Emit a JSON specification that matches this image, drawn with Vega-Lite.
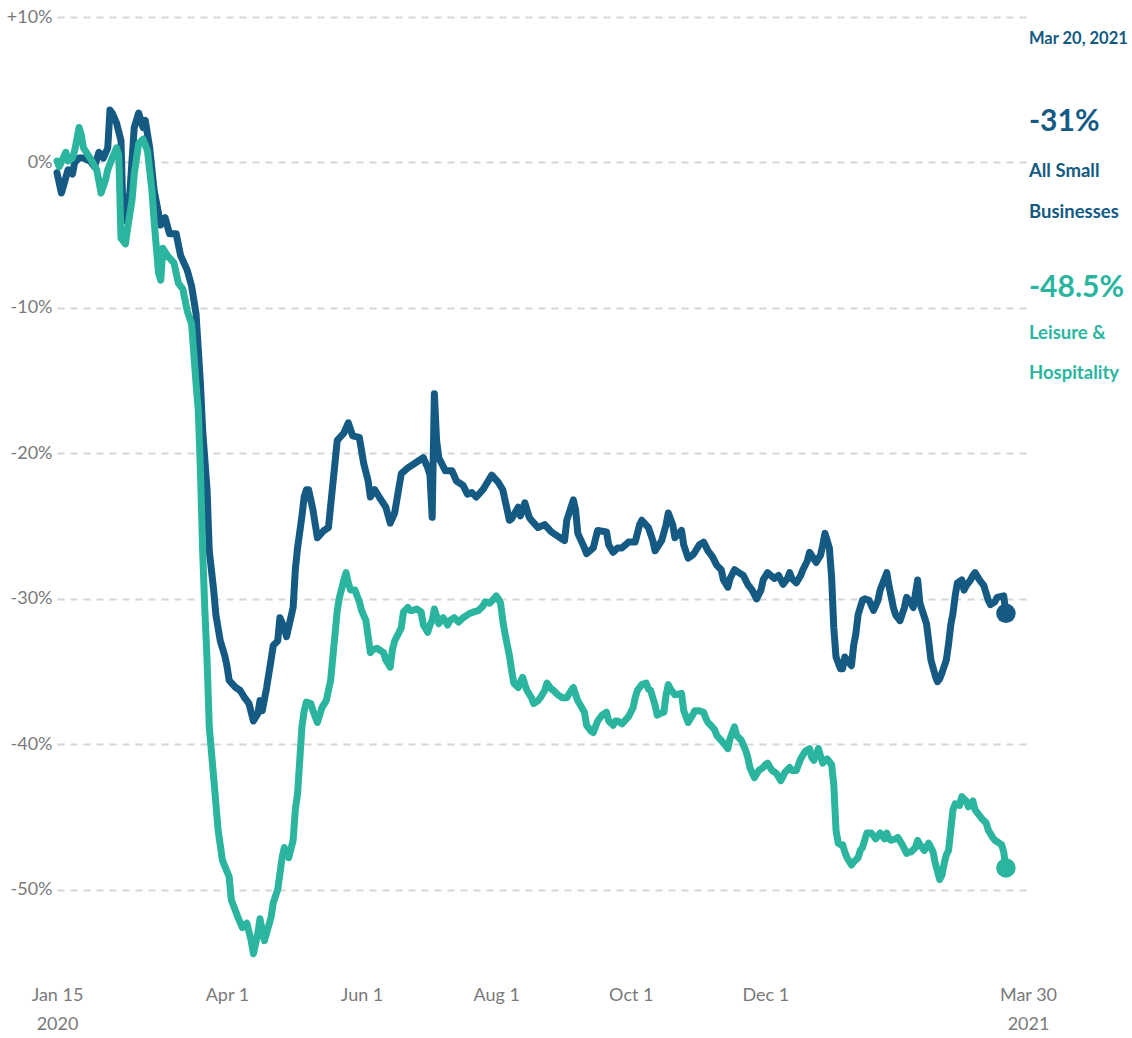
{
  "$schema": "https://vega.github.io/schema/vega-lite/v6.json",
  "width": 971,
  "height": 960,
  "autosize": {"type": "none"},
  "padding": {"left": 57, "top": 17, "right": 104, "bottom": 61},
  "background": "white",
  "config": {"view": {"stroke": null}, "font": "Lato"},
  "datasets": {
    "series": [
      {"d":"2020-01-15","s":"All","v":-0.7},{"d":"2020-01-17","s":"All","v":-2.1},{"d":"2020-01-20","s":"All","v":-0.5},{"d":"2020-01-22","s":"All","v":-0.8},{"d":"2020-01-23","s":"All","v":0.0},{"d":"2020-01-25","s":"All","v":0.3},{"d":"2020-01-27","s":"All","v":0.3},{"d":"2020-01-30","s":"All","v":0.1},{"d":"2020-02-01","s":"All","v":-0.3},{"d":"2020-02-03","s":"All","v":0.7},{"d":"2020-02-05","s":"All","v":0.3},{"d":"2020-02-07","s":"All","v":1.0},{"d":"2020-02-08","s":"All","v":3.6},{"d":"2020-02-09","s":"All","v":3.4},{"d":"2020-02-11","s":"All","v":2.7},{"d":"2020-02-13","s":"All","v":1.5},{"d":"2020-02-14","s":"All","v":-4.0},{"d":"2020-02-16","s":"All","v":-2.8},{"d":"2020-02-17","s":"All","v":-2.1},{"d":"2020-02-19","s":"All","v":2.4},{"d":"2020-02-21","s":"All","v":3.4},{"d":"2020-02-23","s":"All","v":2.4},{"d":"2020-02-24","s":"All","v":2.9},{"d":"2020-02-26","s":"All","v":1.0},{"d":"2020-02-28","s":"All","v":-1.9},{"d":"2020-03-02","s":"All","v":-4.3},{"d":"2020-03-04","s":"All","v":-3.8},{"d":"2020-03-06","s":"All","v":-4.9},{"d":"2020-03-09","s":"All","v":-4.9},{"d":"2020-03-11","s":"All","v":-6.4},{"d":"2020-03-14","s":"All","v":-7.4},{"d":"2020-03-16","s":"All","v":-8.5},{"d":"2020-03-18","s":"All","v":-10.4},{"d":"2020-03-20","s":"All","v":-15.2},{"d":"2020-03-21","s":"All","v":-18.4},{"d":"2020-03-23","s":"All","v":-22.5},{"d":"2020-03-24","s":"All","v":-26.7},{"d":"2020-03-26","s":"All","v":-29.4},{"d":"2020-03-27","s":"All","v":-31.1},{"d":"2020-03-29","s":"All","v":-32.9},{"d":"2020-03-31","s":"All","v":-33.9},{"d":"2020-04-01","s":"All","v":-34.6},{"d":"2020-04-02","s":"All","v":-35.6},{"d":"2020-04-05","s":"All","v":-36.1},{"d":"2020-04-07","s":"All","v":-36.3},{"d":"2020-04-09","s":"All","v":-36.8},{"d":"2020-04-11","s":"All","v":-37.2},{"d":"2020-04-12","s":"All","v":-37.8},{"d":"2020-04-13","s":"All","v":-38.4},{"d":"2020-04-15","s":"All","v":-37.9},{"d":"2020-04-16","s":"All","v":-37.0},{"d":"2020-04-17","s":"All","v":-37.7},{"d":"2020-04-19","s":"All","v":-36.1},{"d":"2020-04-21","s":"All","v":-34.2},{"d":"2020-04-22","s":"All","v":-33.2},{"d":"2020-04-24","s":"All","v":-32.9},{"d":"2020-04-25","s":"All","v":-31.3},{"d":"2020-04-27","s":"All","v":-32.0},{"d":"2020-04-28","s":"All","v":-32.6},{"d":"2020-05-01","s":"All","v":-30.6},{"d":"2020-05-02","s":"All","v":-28.0},{"d":"2020-05-03","s":"All","v":-26.5},{"d":"2020-05-05","s":"All","v":-24.3},{"d":"2020-05-06","s":"All","v":-23.0},{"d":"2020-05-07","s":"All","v":-22.5},{"d":"2020-05-08","s":"All","v":-22.5},{"d":"2020-05-10","s":"All","v":-23.9},{"d":"2020-05-12","s":"All","v":-25.8},{"d":"2020-05-15","s":"All","v":-25.3},{"d":"2020-05-17","s":"All","v":-25.1},{"d":"2020-05-19","s":"All","v":-22.1},{"d":"2020-05-21","s":"All","v":-19.1},{"d":"2020-05-24","s":"All","v":-18.6},{"d":"2020-05-26","s":"All","v":-17.9},{"d":"2020-05-28","s":"All","v":-18.8},{"d":"2020-05-31","s":"All","v":-18.9},{"d":"2020-06-02","s":"All","v":-20.7},{"d":"2020-06-04","s":"All","v":-21.9},{"d":"2020-06-05","s":"All","v":-23.0},{"d":"2020-06-07","s":"All","v":-22.5},{"d":"2020-06-09","s":"All","v":-23.0},{"d":"2020-06-12","s":"All","v":-23.7},{"d":"2020-06-14","s":"All","v":-24.8},{"d":"2020-06-16","s":"All","v":-24.1},{"d":"2020-06-17","s":"All","v":-23.2},{"d":"2020-06-19","s":"All","v":-21.4},{"d":"2020-06-22","s":"All","v":-21.0},{"d":"2020-06-25","s":"All","v":-20.7},{"d":"2020-06-29","s":"All","v":-20.3},{"d":"2020-07-01","s":"All","v":-21.0},{"d":"2020-07-02","s":"All","v":-21.5},{"d":"2020-07-03","s":"All","v":-24.4},{"d":"2020-07-04","s":"All","v":-15.9},{"d":"2020-07-05","s":"All","v":-19.1},{"d":"2020-07-06","s":"All","v":-20.3},{"d":"2020-07-09","s":"All","v":-21.2},{"d":"2020-07-12","s":"All","v":-21.2},{"d":"2020-07-14","s":"All","v":-21.9},{"d":"2020-07-17","s":"All","v":-22.2},{"d":"2020-07-19","s":"All","v":-22.8},{"d":"2020-07-21","s":"All","v":-22.7},{"d":"2020-07-23","s":"All","v":-23.0},{"d":"2020-07-26","s":"All","v":-22.5},{"d":"2020-07-28","s":"All","v":-22.0},{"d":"2020-07-30","s":"All","v":-21.5},{"d":"2020-08-02","s":"All","v":-22.0},{"d":"2020-08-04","s":"All","v":-22.5},{"d":"2020-08-06","s":"All","v":-23.9},{"d":"2020-08-07","s":"All","v":-24.6},{"d":"2020-08-08","s":"All","v":-24.5},{"d":"2020-08-11","s":"All","v":-23.7},{"d":"2020-08-12","s":"All","v":-24.3},{"d":"2020-08-14","s":"All","v":-23.4},{"d":"2020-08-16","s":"All","v":-24.4},{"d":"2020-08-17","s":"All","v":-24.6},{"d":"2020-08-20","s":"All","v":-25.1},{"d":"2020-08-23","s":"All","v":-24.9},{"d":"2020-08-26","s":"All","v":-25.4},{"d":"2020-08-28","s":"All","v":-25.6},{"d":"2020-08-30","s":"All","v":-25.8},{"d":"2020-09-01","s":"All","v":-26.0},{"d":"2020-09-02","s":"All","v":-24.6},{"d":"2020-09-05","s":"All","v":-23.2},{"d":"2020-09-06","s":"All","v":-23.9},{"d":"2020-09-07","s":"All","v":-25.5},{"d":"2020-09-10","s":"All","v":-26.5},{"d":"2020-09-11","s":"All","v":-26.9},{"d":"2020-09-14","s":"All","v":-26.5},{"d":"2020-09-16","s":"All","v":-25.3},{"d":"2020-09-20","s":"All","v":-25.4},{"d":"2020-09-21","s":"All","v":-26.3},{"d":"2020-09-23","s":"All","v":-26.8},{"d":"2020-09-25","s":"All","v":-26.5},{"d":"2020-09-27","s":"All","v":-26.5},{"d":"2020-09-30","s":"All","v":-26.1},{"d":"2020-10-03","s":"All","v":-26.1},{"d":"2020-10-05","s":"All","v":-24.9},{"d":"2020-10-06","s":"All","v":-24.6},{"d":"2020-10-09","s":"All","v":-25.1},{"d":"2020-10-11","s":"All","v":-26.0},{"d":"2020-10-12","s":"All","v":-26.7},{"d":"2020-10-15","s":"All","v":-26.0},{"d":"2020-10-17","s":"All","v":-24.9},{"d":"2020-10-18","s":"All","v":-24.1},{"d":"2020-10-20","s":"All","v":-24.9},{"d":"2020-10-21","s":"All","v":-25.8},{"d":"2020-10-24","s":"All","v":-25.3},{"d":"2020-10-25","s":"All","v":-26.3},{"d":"2020-10-27","s":"All","v":-27.2},{"d":"2020-10-29","s":"All","v":-27.0},{"d":"2020-10-30","s":"All","v":-26.8},{"d":"2020-11-01","s":"All","v":-26.3},{"d":"2020-11-03","s":"All","v":-26.1},{"d":"2020-11-05","s":"All","v":-26.7},{"d":"2020-11-07","s":"All","v":-27.1},{"d":"2020-11-09","s":"All","v":-27.7},{"d":"2020-11-11","s":"All","v":-28.0},{"d":"2020-11-12","s":"All","v":-28.7},{"d":"2020-11-14","s":"All","v":-29.2},{"d":"2020-11-15","s":"All","v":-28.6},{"d":"2020-11-17","s":"All","v":-28.0},{"d":"2020-11-19","s":"All","v":-28.2},{"d":"2020-11-21","s":"All","v":-28.4},{"d":"2020-11-23","s":"All","v":-29.0},{"d":"2020-11-25","s":"All","v":-29.4},{"d":"2020-11-27","s":"All","v":-30.0},{"d":"2020-11-29","s":"All","v":-29.4},{"d":"2020-11-30","s":"All","v":-28.7},{"d":"2020-12-02","s":"All","v":-28.2},{"d":"2020-12-05","s":"All","v":-28.6},{"d":"2020-12-07","s":"All","v":-28.4},{"d":"2020-12-09","s":"All","v":-29.0},{"d":"2020-12-11","s":"All","v":-28.6},{"d":"2020-12-12","s":"All","v":-28.2},{"d":"2020-12-13","s":"All","v":-28.6},{"d":"2020-12-15","s":"All","v":-28.9},{"d":"2020-12-17","s":"All","v":-28.4},{"d":"2020-12-18","s":"All","v":-28.0},{"d":"2020-12-20","s":"All","v":-27.4},{"d":"2020-12-21","s":"All","v":-26.8},{"d":"2020-12-24","s":"All","v":-27.5},{"d":"2020-12-26","s":"All","v":-27.0},{"d":"2020-12-27","s":"All","v":-26.3},{"d":"2020-12-28","s":"All","v":-25.5},{"d":"2020-12-30","s":"All","v":-26.5},{"d":"2020-12-31","s":"All","v":-28.5},{"d":"2021-01-01","s":"All","v":-32.0},{"d":"2021-01-02","s":"All","v":-34.0},{"d":"2021-01-03","s":"All","v":-34.4},{"d":"2021-01-04","s":"All","v":-34.8},{"d":"2021-01-05","s":"All","v":-34.8},{"d":"2021-01-06","s":"All","v":-34.0},{"d":"2021-01-08","s":"All","v":-34.4},{"d":"2021-01-09","s":"All","v":-34.6},{"d":"2021-01-10","s":"All","v":-33.2},{"d":"2021-01-11","s":"All","v":-32.4},{"d":"2021-01-12","s":"All","v":-31.1},{"d":"2021-01-14","s":"All","v":-30.1},{"d":"2021-01-15","s":"All","v":-30.0},{"d":"2021-01-17","s":"All","v":-30.1},{"d":"2021-01-19","s":"All","v":-30.8},{"d":"2021-01-21","s":"All","v":-30.1},{"d":"2021-01-22","s":"All","v":-29.4},{"d":"2021-01-25","s":"All","v":-28.2},{"d":"2021-01-26","s":"All","v":-29.1},{"d":"2021-01-28","s":"All","v":-30.6},{"d":"2021-01-29","s":"All","v":-31.1},{"d":"2021-01-31","s":"All","v":-31.5},{"d":"2021-02-02","s":"All","v":-30.6},{"d":"2021-02-03","s":"All","v":-29.9},{"d":"2021-02-05","s":"All","v":-30.3},{"d":"2021-02-06","s":"All","v":-30.6},{"d":"2021-02-08","s":"All","v":-28.7},{"d":"2021-02-09","s":"All","v":-30.3},{"d":"2021-02-12","s":"All","v":-31.7},{"d":"2021-02-13","s":"All","v":-32.9},{"d":"2021-02-14","s":"All","v":-34.2},{"d":"2021-02-16","s":"All","v":-35.3},{"d":"2021-02-17","s":"All","v":-35.7},{"d":"2021-02-18","s":"All","v":-35.5},{"d":"2021-02-19","s":"All","v":-35.1},{"d":"2021-02-21","s":"All","v":-34.2},{"d":"2021-02-22","s":"All","v":-33.1},{"d":"2021-02-23","s":"All","v":-31.8},{"d":"2021-02-24","s":"All","v":-31.0},{"d":"2021-02-25","s":"All","v":-29.8},{"d":"2021-02-26","s":"All","v":-28.9},{"d":"2021-02-28","s":"All","v":-28.7},{"d":"2021-03-01","s":"All","v":-29.4},{"d":"2021-03-02","s":"All","v":-29.1},{"d":"2021-03-04","s":"All","v":-28.7},{"d":"2021-03-05","s":"All","v":-28.4},{"d":"2021-03-06","s":"All","v":-28.2},{"d":"2021-03-08","s":"All","v":-28.7},{"d":"2021-03-10","s":"All","v":-29.1},{"d":"2021-03-11","s":"All","v":-29.6},{"d":"2021-03-12","s":"All","v":-30.1},{"d":"2021-03-13","s":"All","v":-30.4},{"d":"2021-03-15","s":"All","v":-30.2},{"d":"2021-03-16","s":"All","v":-29.9},{"d":"2021-03-19","s":"All","v":-29.8},{"d":"2021-03-20","s":"All","v":-31.0},
      {"d":"2020-01-15","s":"Leisure","v":0.1},{"d":"2020-01-16","s":"Leisure","v":-0.3},{"d":"2020-01-19","s":"Leisure","v":0.7},{"d":"2020-01-20","s":"Leisure","v":0.1},{"d":"2020-01-22","s":"Leisure","v":0.3},{"d":"2020-01-23","s":"Leisure","v":0.8},{"d":"2020-01-25","s":"Leisure","v":2.4},{"d":"2020-01-26","s":"Leisure","v":1.9},{"d":"2020-01-27","s":"Leisure","v":1.0},{"d":"2020-01-30","s":"Leisure","v":0.3},{"d":"2020-02-02","s":"Leisure","v":-0.5},{"d":"2020-02-04","s":"Leisure","v":-2.1},{"d":"2020-02-06","s":"Leisure","v":-1.2},{"d":"2020-02-07","s":"Leisure","v":-0.5},{"d":"2020-02-09","s":"Leisure","v":0.3},{"d":"2020-02-11","s":"Leisure","v":1.0},{"d":"2020-02-12","s":"Leisure","v":0.5},{"d":"2020-02-13","s":"Leisure","v":-5.2},{"d":"2020-02-15","s":"Leisure","v":-5.6},{"d":"2020-02-16","s":"Leisure","v":-4.5},{"d":"2020-02-18","s":"Leisure","v":-2.6},{"d":"2020-02-19","s":"Leisure","v":-0.8},{"d":"2020-02-21","s":"Leisure","v":1.3},{"d":"2020-02-23","s":"Leisure","v":1.6},{"d":"2020-02-25","s":"Leisure","v":0.8},{"d":"2020-02-27","s":"Leisure","v":-1.9},{"d":"2020-02-28","s":"Leisure","v":-4.0},{"d":"2020-03-01","s":"Leisure","v":-7.6},{"d":"2020-03-02","s":"Leisure","v":-8.1},{"d":"2020-03-03","s":"Leisure","v":-5.9},{"d":"2020-03-05","s":"Leisure","v":-6.4},{"d":"2020-03-08","s":"Leisure","v":-6.9},{"d":"2020-03-10","s":"Leisure","v":-8.3},{"d":"2020-03-12","s":"Leisure","v":-8.7},{"d":"2020-03-14","s":"Leisure","v":-10.2},{"d":"2020-03-16","s":"Leisure","v":-11.1},{"d":"2020-03-18","s":"Leisure","v":-15.2},{"d":"2020-03-19","s":"Leisure","v":-17.0},{"d":"2020-03-20","s":"Leisure","v":-21.2},{"d":"2020-03-21","s":"Leisure","v":-26.7},{"d":"2020-03-22","s":"Leisure","v":-30.8},{"d":"2020-03-23","s":"Leisure","v":-34.2},{"d":"2020-03-24","s":"Leisure","v":-38.8},{"d":"2020-03-26","s":"Leisure","v":-42.3},{"d":"2020-03-28","s":"Leisure","v":-45.9},{"d":"2020-03-30","s":"Leisure","v":-48.0},{"d":"2020-04-02","s":"Leisure","v":-49.1},{"d":"2020-04-03","s":"Leisure","v":-50.7},{"d":"2020-04-06","s":"Leisure","v":-51.9},{"d":"2020-04-08","s":"Leisure","v":-52.6},{"d":"2020-04-10","s":"Leisure","v":-52.3},{"d":"2020-04-12","s":"Leisure","v":-53.5},{"d":"2020-04-13","s":"Leisure","v":-54.4},{"d":"2020-04-15","s":"Leisure","v":-53.0},{"d":"2020-04-16","s":"Leisure","v":-52.0},{"d":"2020-04-17","s":"Leisure","v":-52.8},{"d":"2020-04-18","s":"Leisure","v":-53.5},{"d":"2020-04-21","s":"Leisure","v":-51.9},{"d":"2020-04-22","s":"Leisure","v":-50.9},{"d":"2020-04-24","s":"Leisure","v":-50.0},{"d":"2020-04-26","s":"Leisure","v":-47.8},{"d":"2020-04-27","s":"Leisure","v":-47.1},{"d":"2020-04-29","s":"Leisure","v":-47.8},{"d":"2020-05-01","s":"Leisure","v":-46.6},{"d":"2020-05-02","s":"Leisure","v":-44.5},{"d":"2020-05-03","s":"Leisure","v":-43.4},{"d":"2020-05-04","s":"Leisure","v":-41.1},{"d":"2020-05-05","s":"Leisure","v":-38.8},{"d":"2020-05-06","s":"Leisure","v":-37.7},{"d":"2020-05-07","s":"Leisure","v":-37.1},{"d":"2020-05-09","s":"Leisure","v":-37.2},{"d":"2020-05-10","s":"Leisure","v":-37.7},{"d":"2020-05-12","s":"Leisure","v":-38.5},{"d":"2020-05-14","s":"Leisure","v":-37.5},{"d":"2020-05-16","s":"Leisure","v":-37.0},{"d":"2020-05-18","s":"Leisure","v":-35.6},{"d":"2020-05-20","s":"Leisure","v":-32.4},{"d":"2020-05-21","s":"Leisure","v":-30.8},{"d":"2020-05-22","s":"Leisure","v":-29.9},{"d":"2020-05-24","s":"Leisure","v":-28.7},{"d":"2020-05-25","s":"Leisure","v":-28.2},{"d":"2020-05-26","s":"Leisure","v":-28.9},{"d":"2020-05-27","s":"Leisure","v":-29.4},{"d":"2020-05-29","s":"Leisure","v":-29.4},{"d":"2020-05-31","s":"Leisure","v":-30.2},{"d":"2020-06-01","s":"Leisure","v":-30.8},{"d":"2020-06-03","s":"Leisure","v":-31.5},{"d":"2020-06-05","s":"Leisure","v":-33.7},{"d":"2020-06-06","s":"Leisure","v":-33.5},{"d":"2020-06-08","s":"Leisure","v":-33.4},{"d":"2020-06-09","s":"Leisure","v":-33.5},{"d":"2020-06-11","s":"Leisure","v":-33.7},{"d":"2020-06-12","s":"Leisure","v":-34.2},{"d":"2020-06-14","s":"Leisure","v":-34.7},{"d":"2020-06-15","s":"Leisure","v":-33.5},{"d":"2020-06-16","s":"Leisure","v":-32.9},{"d":"2020-06-19","s":"Leisure","v":-32.0},{"d":"2020-06-20","s":"Leisure","v":-30.9},{"d":"2020-06-22","s":"Leisure","v":-30.6},{"d":"2020-06-23","s":"Leisure","v":-30.8},{"d":"2020-06-24","s":"Leisure","v":-30.8},{"d":"2020-06-26","s":"Leisure","v":-30.7},{"d":"2020-06-28","s":"Leisure","v":-30.9},{"d":"2020-06-29","s":"Leisure","v":-31.8},{"d":"2020-07-01","s":"Leisure","v":-32.3},{"d":"2020-07-02","s":"Leisure","v":-31.8},{"d":"2020-07-03","s":"Leisure","v":-31.5},{"d":"2020-07-04","s":"Leisure","v":-30.7},{"d":"2020-07-06","s":"Leisure","v":-31.7},{"d":"2020-07-08","s":"Leisure","v":-31.3},{"d":"2020-07-10","s":"Leisure","v":-31.8},{"d":"2020-07-11","s":"Leisure","v":-31.5},{"d":"2020-07-13","s":"Leisure","v":-31.3},{"d":"2020-07-15","s":"Leisure","v":-31.6},{"d":"2020-07-17","s":"Leisure","v":-31.3},{"d":"2020-07-19","s":"Leisure","v":-31.1},{"d":"2020-07-20","s":"Leisure","v":-31.0},{"d":"2020-07-22","s":"Leisure","v":-30.9},{"d":"2020-07-24","s":"Leisure","v":-30.8},{"d":"2020-07-26","s":"Leisure","v":-30.5},{"d":"2020-07-27","s":"Leisure","v":-30.2},{"d":"2020-07-29","s":"Leisure","v":-30.3},{"d":"2020-07-31","s":"Leisure","v":-30.0},{"d":"2020-08-01","s":"Leisure","v":-29.8},{"d":"2020-08-02","s":"Leisure","v":-30.0},{"d":"2020-08-03","s":"Leisure","v":-30.3},{"d":"2020-08-04","s":"Leisure","v":-31.5},{"d":"2020-08-05","s":"Leisure","v":-32.4},{"d":"2020-08-07","s":"Leisure","v":-33.9},{"d":"2020-08-08","s":"Leisure","v":-34.9},{"d":"2020-08-09","s":"Leisure","v":-35.8},{"d":"2020-08-11","s":"Leisure","v":-36.1},{"d":"2020-08-12","s":"Leisure","v":-35.7},{"d":"2020-08-13","s":"Leisure","v":-35.4},{"d":"2020-08-14","s":"Leisure","v":-35.9},{"d":"2020-08-15","s":"Leisure","v":-36.3},{"d":"2020-08-17","s":"Leisure","v":-36.8},{"d":"2020-08-18","s":"Leisure","v":-37.2},{"d":"2020-08-20","s":"Leisure","v":-37.0},{"d":"2020-08-21","s":"Leisure","v":-36.8},{"d":"2020-08-23","s":"Leisure","v":-36.3},{"d":"2020-08-24","s":"Leisure","v":-35.8},{"d":"2020-08-26","s":"Leisure","v":-36.2},{"d":"2020-08-27","s":"Leisure","v":-36.3},{"d":"2020-08-29","s":"Leisure","v":-36.6},{"d":"2020-08-31","s":"Leisure","v":-36.8},{"d":"2020-09-02","s":"Leisure","v":-36.8},{"d":"2020-09-04","s":"Leisure","v":-36.3},{"d":"2020-09-05","s":"Leisure","v":-36.1},{"d":"2020-09-06","s":"Leisure","v":-36.6},{"d":"2020-09-07","s":"Leisure","v":-37.0},{"d":"2020-09-10","s":"Leisure","v":-37.8},{"d":"2020-09-11","s":"Leisure","v":-38.7},{"d":"2020-09-13","s":"Leisure","v":-39.1},{"d":"2020-09-14","s":"Leisure","v":-39.2},{"d":"2020-09-15","s":"Leisure","v":-38.8},{"d":"2020-09-16","s":"Leisure","v":-38.4},{"d":"2020-09-18","s":"Leisure","v":-38.0},{"d":"2020-09-20","s":"Leisure","v":-37.8},{"d":"2020-09-21","s":"Leisure","v":-38.4},{"d":"2020-09-23","s":"Leisure","v":-38.7},{"d":"2020-09-24","s":"Leisure","v":-38.4},{"d":"2020-09-25","s":"Leisure","v":-38.4},{"d":"2020-09-27","s":"Leisure","v":-38.6},{"d":"2020-09-30","s":"Leisure","v":-38.1},{"d":"2020-10-01","s":"Leisure","v":-37.8},{"d":"2020-10-02","s":"Leisure","v":-37.5},{"d":"2020-10-03","s":"Leisure","v":-36.8},{"d":"2020-10-04","s":"Leisure","v":-36.3},{"d":"2020-10-06","s":"Leisure","v":-35.9},{"d":"2020-10-08","s":"Leisure","v":-35.8},{"d":"2020-10-09","s":"Leisure","v":-36.2},{"d":"2020-10-10","s":"Leisure","v":-36.3},{"d":"2020-10-12","s":"Leisure","v":-37.3},{"d":"2020-10-13","s":"Leisure","v":-38.0},{"d":"2020-10-14","s":"Leisure","v":-37.9},{"d":"2020-10-16","s":"Leisure","v":-37.8},{"d":"2020-10-17","s":"Leisure","v":-36.6},{"d":"2020-10-18","s":"Leisure","v":-35.9},{"d":"2020-10-19","s":"Leisure","v":-36.2},{"d":"2020-10-21","s":"Leisure","v":-36.6},{"d":"2020-10-24","s":"Leisure","v":-36.5},{"d":"2020-10-25","s":"Leisure","v":-37.7},{"d":"2020-10-27","s":"Leisure","v":-38.5},{"d":"2020-10-29","s":"Leisure","v":-38.0},{"d":"2020-10-30","s":"Leisure","v":-37.7},{"d":"2020-11-01","s":"Leisure","v":-37.7},{"d":"2020-11-03","s":"Leisure","v":-37.8},{"d":"2020-11-04","s":"Leisure","v":-38.2},{"d":"2020-11-05","s":"Leisure","v":-38.5},{"d":"2020-11-08","s":"Leisure","v":-39.0},{"d":"2020-11-09","s":"Leisure","v":-39.4},{"d":"2020-11-12","s":"Leisure","v":-39.9},{"d":"2020-11-14","s":"Leisure","v":-40.3},{"d":"2020-11-15","s":"Leisure","v":-39.6},{"d":"2020-11-17","s":"Leisure","v":-38.8},{"d":"2020-11-18","s":"Leisure","v":-39.4},{"d":"2020-11-20","s":"Leisure","v":-39.7},{"d":"2020-11-22","s":"Leisure","v":-40.4},{"d":"2020-11-23","s":"Leisure","v":-40.9},{"d":"2020-11-24","s":"Leisure","v":-41.6},{"d":"2020-11-26","s":"Leisure","v":-42.3},{"d":"2020-11-28","s":"Leisure","v":-41.8},{"d":"2020-11-30","s":"Leisure","v":-41.6},{"d":"2020-12-01","s":"Leisure","v":-41.4},{"d":"2020-12-02","s":"Leisure","v":-41.3},{"d":"2020-12-04","s":"Leisure","v":-41.8},{"d":"2020-12-06","s":"Leisure","v":-42.0},{"d":"2020-12-08","s":"Leisure","v":-42.5},{"d":"2020-12-10","s":"Leisure","v":-41.9},{"d":"2020-12-12","s":"Leisure","v":-41.6},{"d":"2020-12-13","s":"Leisure","v":-41.8},{"d":"2020-12-15","s":"Leisure","v":-41.8},{"d":"2020-12-17","s":"Leisure","v":-41.0},{"d":"2020-12-19","s":"Leisure","v":-40.5},{"d":"2020-12-21","s":"Leisure","v":-40.3},{"d":"2020-12-22","s":"Leisure","v":-40.9},{"d":"2020-12-23","s":"Leisure","v":-41.1},{"d":"2020-12-25","s":"Leisure","v":-40.3},{"d":"2020-12-26","s":"Leisure","v":-40.8},{"d":"2020-12-27","s":"Leisure","v":-41.3},{"d":"2020-12-28","s":"Leisure","v":-41.1},{"d":"2020-12-29","s":"Leisure","v":-41.0},{"d":"2020-12-31","s":"Leisure","v":-41.4},{"d":"2021-01-01","s":"Leisure","v":-42.8},{"d":"2021-01-02","s":"Leisure","v":-45.9},{"d":"2021-01-03","s":"Leisure","v":-46.8},{"d":"2021-01-04","s":"Leisure","v":-46.9},{"d":"2021-01-05","s":"Leisure","v":-46.9},{"d":"2021-01-06","s":"Leisure","v":-47.4},{"d":"2021-01-07","s":"Leisure","v":-47.8},{"d":"2021-01-09","s":"Leisure","v":-48.3},{"d":"2021-01-10","s":"Leisure","v":-48.1},{"d":"2021-01-12","s":"Leisure","v":-47.8},{"d":"2021-01-13","s":"Leisure","v":-47.3},{"d":"2021-01-14","s":"Leisure","v":-47.1},{"d":"2021-01-15","s":"Leisure","v":-46.6},{"d":"2021-01-16","s":"Leisure","v":-46.1},{"d":"2021-01-18","s":"Leisure","v":-46.1},{"d":"2021-01-19","s":"Leisure","v":-46.3},{"d":"2021-01-20","s":"Leisure","v":-46.5},{"d":"2021-01-22","s":"Leisure","v":-46.1},{"d":"2021-01-24","s":"Leisure","v":-46.5},{"d":"2021-01-25","s":"Leisure","v":-46.1},{"d":"2021-01-26","s":"Leisure","v":-46.5},{"d":"2021-01-27","s":"Leisure","v":-46.6},{"d":"2021-01-29","s":"Leisure","v":-46.5},{"d":"2021-01-30","s":"Leisure","v":-46.4},{"d":"2021-02-01","s":"Leisure","v":-46.9},{"d":"2021-02-03","s":"Leisure","v":-47.5},{"d":"2021-02-04","s":"Leisure","v":-47.4},{"d":"2021-02-05","s":"Leisure","v":-47.4},{"d":"2021-02-07","s":"Leisure","v":-47.1},{"d":"2021-02-08","s":"Leisure","v":-46.6},{"d":"2021-02-09","s":"Leisure","v":-46.9},{"d":"2021-02-11","s":"Leisure","v":-47.3},{"d":"2021-02-13","s":"Leisure","v":-46.8},{"d":"2021-02-14","s":"Leisure","v":-47.1},{"d":"2021-02-15","s":"Leisure","v":-47.4},{"d":"2021-02-16","s":"Leisure","v":-48.2},{"d":"2021-02-18","s":"Leisure","v":-49.3},{"d":"2021-02-19","s":"Leisure","v":-49.0},{"d":"2021-02-20","s":"Leisure","v":-48.2},{"d":"2021-02-21","s":"Leisure","v":-47.6},{"d":"2021-02-22","s":"Leisure","v":-47.3},{"d":"2021-02-23","s":"Leisure","v":-45.9},{"d":"2021-02-24","s":"Leisure","v":-44.5},{"d":"2021-02-25","s":"Leisure","v":-44.1},{"d":"2021-02-27","s":"Leisure","v":-44.2},{"d":"2021-02-28","s":"Leisure","v":-43.6},{"d":"2021-03-02","s":"Leisure","v":-43.9},{"d":"2021-03-03","s":"Leisure","v":-44.3},{"d":"2021-03-04","s":"Leisure","v":-44.1},{"d":"2021-03-05","s":"Leisure","v":-43.9},{"d":"2021-03-06","s":"Leisure","v":-44.5},{"d":"2021-03-07","s":"Leisure","v":-44.7},{"d":"2021-03-09","s":"Leisure","v":-45.1},{"d":"2021-03-11","s":"Leisure","v":-45.4},{"d":"2021-03-12","s":"Leisure","v":-45.9},{"d":"2021-03-14","s":"Leisure","v":-46.4},{"d":"2021-03-15","s":"Leisure","v":-46.6},{"d":"2021-03-16","s":"Leisure","v":-46.7},{"d":"2021-03-18","s":"Leisure","v":-46.9},{"d":"2021-03-19","s":"Leisure","v":-47.4},{"d":"2021-03-20","s":"Leisure","v":-48.5}
    ],
    "notes": [
      {"d":"2021-03-20","s":"All","k":"date","t":"Mar 20, 2021","v":8.5},
      {"d":"2021-03-20","s":"All","k":"big","t":"-31%","v":2.75},
      {"d":"2021-03-20","s":"All","k":"label","t":"All Small","v":-0.6},
      {"d":"2021-03-20","s":"All","k":"label","t":"Businesses","v":-3.4},
      {"d":"2021-03-20","s":"Leisure","k":"big","t":"-48.5%","v":-8.6},
      {"d":"2021-03-20","s":"Leisure","k":"label","t":"Leisure &","v":-11.75},
      {"d":"2021-03-20","s":"Leisure","k":"label","t":"Hospitality","v":-14.5}
    ]
  },
  "layer": [
    {
      "data": {"name": "series"},
      "mark": {"type": "line", "strokeWidth": 7, "strokeJoin": "round", "strokeCap": "round"},
      "encoding": {
        "x": {
          "field": "d", "type": "temporal",
          "scale": {"type": "utc", "domain": [{"year": 2020, "month": 1, "date": 15, "utc": true}, {"year": 2021, "month": 3, "date": 30, "utc": true}]},
          "axis": {
            "title": null, "grid": false, "domain": false, "ticks": false,
            "values": [
              {"year": 2020, "month": 1, "date": 15, "utc": true},
              {"year": 2020, "month": 4, "date": 1, "utc": true},
              {"year": 2020, "month": 6, "date": 1, "utc": true},
              {"year": 2020, "month": 8, "date": 1, "utc": true},
              {"year": 2020, "month": 10, "date": 1, "utc": true},
              {"year": 2020, "month": 12, "date": 1, "utc": true},
              {"year": 2021, "month": 3, "date": 30, "utc": true}
            ],
            "labelExpr": "utcyear(datum.value) == 2021 ? ['Mar 30', '2021'] : (utcmonth(datum.value) == 0 ? ['Jan 15', '2020'] : utcFormat(datum.value, '%b %-d'))",
            "labelFont": "Lato", "labelFontSize": 18, "labelColor": "#7a7a7a",
            "labelPadding": 9, "labelLineHeight": 29, "labelFlush": false, "labelOverlap": false, "labelBaseline": "top"
          }
        },
        "y": {
          "field": "v", "type": "quantitative",
          "scale": {"domain": [-56, 10], "nice": false, "zero": false},
          "axis": {
            "title": null, "domain": false, "ticks": false,
            "values": [-50, -40, -30, -20, -10, 0, 10],
            "labelExpr": "(datum.value > 0 ? '+' : '') + datum.value + '%'",
            "labelFont": "Lato", "labelFontSize": 18, "labelColor": "#7a7a7a", "labelPadding": 5,
            "grid": true, "gridColor": "#d6d6d6", "gridDash": [7, 6], "gridWidth": 2
          }
        },
        "color": {"field": "s", "type": "nominal", "scale": {"domain": ["All", "Leisure"], "range": ["#145a82", "#2bb59f"]}, "legend": null}
      }
    },
    {
      "mark": {"type": "rule", "color": "#163f5e", "strokeWidth": 2.5, "strokeDash": [10, 7]},
      "encoding": {
        "x": {"datum": {"year": 2021, "month": 3, "date": 20, "utc": true}, "type": "temporal"},
        "y": {"datum": 11},
        "y2": {"datum": -54.8}
      }
    },
    {
      "data": {"name": "series"},
      "transform": [{"filter": "time(datum.d) == utc(2021, 2, 20)"}],
      "mark": {"type": "circle", "size": 380, "opacity": 1},
      "encoding": {
        "x": {"field": "d", "type": "temporal"},
        "y": {"field": "v", "type": "quantitative"},
        "color": {"field": "s", "type": "nominal", "legend": null}
      }
    },
    {
      "data": {"name": "notes"},
      "transform": [{"filter": "datum.k == 'date'"}],
      "mark": {"type": "text", "align": "left", "baseline": "middle", "dx": 23, "fontSize": 16.5, "fontWeight": "bold", "font": "Lato"},
      "encoding": {
        "x": {"field": "d", "type": "temporal"},
        "y": {"field": "v", "type": "quantitative"},
        "text": {"field": "t"},
        "color": {"field": "s", "type": "nominal", "legend": null}
      }
    },
    {
      "data": {"name": "notes"},
      "transform": [{"filter": "datum.k == 'big'"}],
      "mark": {"type": "text", "align": "left", "baseline": "middle", "dx": 23, "fontSize": 30, "fontWeight": "bold", "font": "Lato"},
      "encoding": {
        "x": {"field": "d", "type": "temporal"},
        "y": {"field": "v", "type": "quantitative"},
        "text": {"field": "t"},
        "color": {"field": "s", "type": "nominal", "legend": null}
      }
    },
    {
      "data": {"name": "notes"},
      "transform": [{"filter": "datum.k == 'label'"}],
      "mark": {"type": "text", "align": "left", "baseline": "middle", "dx": 23, "fontSize": 18.5, "fontWeight": "bold", "font": "Lato"},
      "encoding": {
        "x": {"field": "d", "type": "temporal"},
        "y": {"field": "v", "type": "quantitative"},
        "text": {"field": "t"},
        "color": {"field": "s", "type": "nominal", "legend": null}
      }
    }
  ]
}
